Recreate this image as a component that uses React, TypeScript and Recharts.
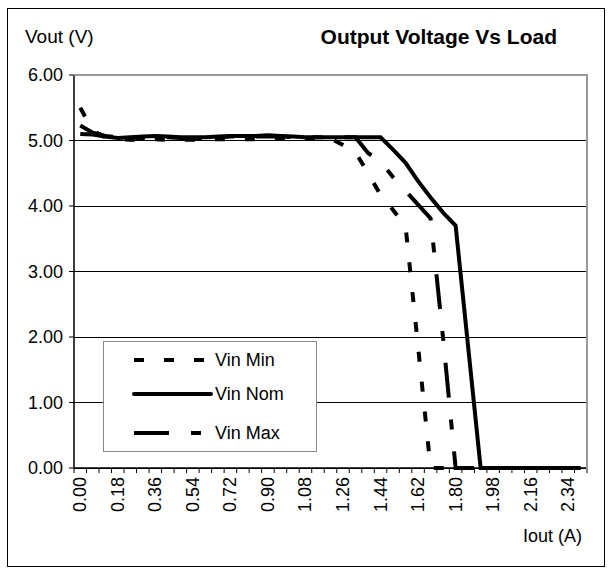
import React from 'react';
import { LineChart, Line, XAxis, YAxis, CartesianGrid } from 'recharts';

// load current (A), one point every 0.06 A
const iout = [
  '0.00', '0.06', '0.12', '0.18', '0.24', '0.30', '0.36', '0.42', '0.48', '0.54',
  '0.60', '0.66', '0.72', '0.78', '0.84', '0.90', '0.96', '1.02', '1.08', '1.14',
  '1.20', '1.26', '1.32', '1.38', '1.44', '1.50', '1.56', '1.62', '1.68', '1.74',
  '1.80', '1.86', '1.92', '1.98', '2.04', '2.10', '2.16', '2.22', '2.28', '2.34', '2.40',
];

const vinMin = [
  5.5, 5.15, 5.05, 5.02, 5.01, 5.01, 5.02, 5.01, 5.01, 5.01,
  5.01, 5.02, 5.02, 5.02, 5.02, 5.02, 5.03, 5.03, 5.03, 5.03,
  5.03, 4.93, 4.82, 4.5, 4.17, 3.94, 3.69, 1.85, 0, 0,
  0, 0, 0, 0, 0, 0, 0, 0, 0, 0, 0,
];

const vinNom = [
  5.1, 5.09, 5.06, 5.04, 5.05, 5.06, 5.07, 5.06, 5.05, 5.05,
  5.05, 5.06, 5.07, 5.07, 5.07, 5.08, 5.07, 5.06, 5.05, 5.05,
  5.05, 5.05, 5.05, 5.05, 5.05, 4.86, 4.66, 4.38, 4.13, 3.9,
  3.7, 1.85, 0, 0, 0, 0, 0, 0, 0, 0, 0,
];

const vinMax = [
  5.23, 5.12, 5.07, 5.05, 5.04, 5.04, 5.05, 5.05, 5.04, 5.04,
  5.04, 5.05, 5.06, 5.06, 5.06, 5.06, 5.06, 5.05, 5.05, 5.05,
  5.05, 5.05, 5.05, 4.81, 4.68, 4.44, 4.23, 4.02, 3.81, 1.98,
  0, 0, 0, 0, 0, 0, 0, 0, 0, 0, 0,
];

const yTicks = [0, 1, 2, 3, 4, 5, 6];

const data = iout.map((x, i) => ({
  x,
  vinMin: vinMin[i],
  vinNom: vinNom[i],
  vinMax: vinMax[i],
}));

const FONT = 'Arial, "Liberation Sans", sans-serif';
const PLOT_LEFT = 74;
const PLOT_RIGHT = 587;
const PLOT_TOP = 75;
const PLOT_BOTTOM = 468;
const STEP = (PLOT_RIGHT - PLOT_LEFT) / iout.length;

const XTick = (props: any) => {
  const { x, y, payload } = props;
  const idx = payload.index ?? props.index;
  const half = STEP / 2;
  return (
    <g>
      <line x1={x - half} x2={x - half} y1={y} y2={y + 5} stroke="#000" />
      {idx === iout.length - 1 && (
        <line x1={x + half} x2={x + half} y1={y} y2={y + 5} stroke="#000" />
      )}
      {idx % 3 === 0 && (
        <text
          transform={`translate(${x},${y + 9}) rotate(-90)`}
          textAnchor="end"
          dominantBaseline="central"
          fontSize={18}
          fontFamily={FONT}
          fill="#000"
        >
          {payload.value}
        </text>
      )}
    </g>
  );
};

const legendItems = [
  { name: 'Vin Min', dash: '10 20', y: 359 },
  { name: 'Vin Nom', dash: undefined, y: 393 },
  { name: 'Vin Max', dash: '35 22 10 22', y: 432 },
];

export default function App() {
  return (
    <div style={{ position: 'relative', width: 615, height: 574, background: '#fff', fontFamily: FONT }}>
      <style>{'body{margin:0}'}</style>
      <div style={{ position: 'absolute', left: 7, top: 8, width: 596, height: 557, border: '1px solid #000' }} />
      <LineChart
        width={615}
        height={574}
        data={data}
        margin={{ top: PLOT_TOP, right: 615 - PLOT_RIGHT, left: 0, bottom: 0 }}
      >
        <CartesianGrid vertical={false} stroke="#000" strokeWidth={1} shapeRendering="crispEdges" />
        <XAxis
          dataKey="x"
          height={574 - PLOT_BOTTOM}
          interval={0}
          tickSize={0}
          tickMargin={0}
          tickLine={false}
          axisLine={{ stroke: '#000', strokeWidth: 1.5 }}
          padding={{ left: STEP / 2, right: STEP / 2 }}
          tick={<XTick />}
        />
        <YAxis
          width={PLOT_LEFT}
          domain={[0, 6]}
          ticks={yTicks}
          interval={0}
          tickFormatter={(v: number) => v.toFixed(2)}
          tick={{ fill: '#000', fontSize: 18, fontFamily: FONT }}
          tickSize={5}
          tickMargin={6}
          tickLine={{ stroke: '#000' }}
          axisLine={{ stroke: '#000', strokeWidth: 1.5 }}
        />
        <Line
          dataKey="vinNom"
          stroke="#000"
          strokeWidth={4}
          dot={false}
          isAnimationActive={false}
        />
        <Line
          dataKey="vinMax"
          stroke="#000"
          strokeWidth={4}
          strokeDasharray="35 22 10 22"
          dot={false}
          isAnimationActive={false}
        />
        <Line
          dataKey="vinMin"
          stroke="#000"
          strokeWidth={4}
          strokeDasharray="10 20"
          dot={false}
          isAnimationActive={false}
        />
      </LineChart>
      {/* plot frame: top and right edges */}
      <div
        style={{
          position: 'absolute',
          left: PLOT_LEFT,
          top: PLOT_TOP - 1,
          width: PLOT_RIGHT - PLOT_LEFT - 1,
          height: PLOT_BOTTOM - PLOT_TOP,
          borderTop: '2px solid #999',
          borderRight: '2px solid #999',
          pointerEvents: 'none',
        }}
      />
      <div style={{ position: 'absolute', left: 25, top: 26, fontSize: 19 }}>Vout (V)</div>
      <div style={{ position: 'absolute', right: 615 - 557, top: 25, fontSize: 21, fontWeight: 'bold' }}>
        Output Voltage Vs Load
      </div>
      <div style={{ position: 'absolute', right: 615 - 582, top: 526, fontSize: 18 }}>Iout (A)</div>
      {/* legend */}
      <div
        style={{
          position: 'absolute',
          left: 103,
          top: 341,
          width: 212,
          height: 109,
          border: '1px solid #888',
          background: '#fff',
        }}
      >
        <svg width={212} height={109} style={{ position: 'absolute', left: 0, top: 0 }}>
          {legendItems.map((item) => (
            <g key={item.name}>
              <line
                x1={30}
                x2={107}
                y1={item.y - 341}
                y2={item.y - 341}
                stroke="#000"
                strokeWidth={4}
                strokeDasharray={item.dash}
                strokeLinecap={item.dash ? 'butt' : 'round'}
              />
              <text x={111} y={item.y - 341} dominantBaseline="central" fontSize={18} fontFamily={FONT} fill="#000">
                {item.name}
              </text>
            </g>
          ))}
        </svg>
      </div>
    </div>
  );
}
